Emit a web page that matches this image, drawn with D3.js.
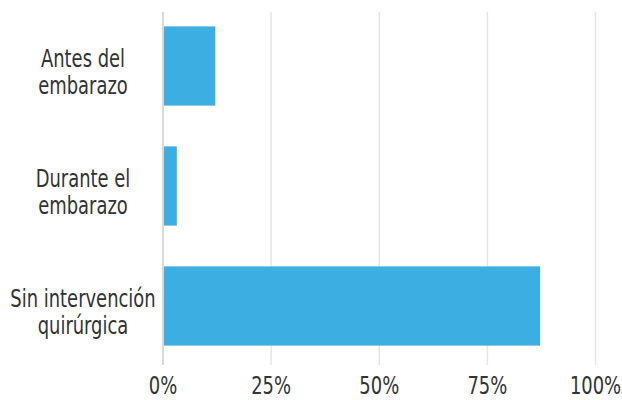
<!DOCTYPE html>
<html>
<head>
<meta charset="utf-8">
<script src="https://cdn.jsdelivr.net/npm/d3@7"></script>
<style>
  html, body { margin: 0; padding: 0; background: #fff; }
  svg text { font-family: "Liberation Sans Narrow", "DejaVu Sans Condensed", "Roboto", sans-serif; fill: #333; }
</style>
</head>
<body>
<svg id="chart"></svg>
<script>
// categories (each split into its display lines) and share of cases
const categories = ['Antes del embarazo', 'Durante el embarazo', 'Sin intervención quirúrgica'];
const categoryLines = [['Antes del', 'embarazo'], ['Durante el', 'embarazo'], ['Sin intervención', 'quirúrgica']];
const shares = [0.121, 0.032, 0.872];
const tickValues = [0, 0.25, 0.5, 0.75, 1];
const tickLabels = ['0%', '25%', '50%', '75%', '100%'];

const width = 622, height = 400;
const svg = d3.select('#chart').attr('width', width).attr('height', height);

const x = d3.scaleLinear().domain([0, 1]).range([163, 595.5]);
const y = d3.scaleBand().domain(categories).range([6, 366]).paddingInner(0.34).paddingOuter(0.17);

const gridTop = 12, gridBottom = 365;
const squeeze = 0.83; // the reference face is a narrow one; emulate it

// gridlines
svg.append('g').selectAll('line')
  .data(tickValues)
  .enter().append('line')
  .attr('x1', d => x(d)).attr('x2', d => x(d))
  .attr('y1', gridTop).attr('y2', gridBottom)
  .attr('stroke', d => d === 0 ? '#d9d9d9' : '#e6e6e6')
  .attr('stroke-width', d => d === 0 ? 2 : 1.5);

// bars
svg.append('g').selectAll('rect')
  .data(shares)
  .enter().append('rect')
  .attr('x', x(0) + 1)
  .attr('y', (d, i) => y(categories[i]))
  .attr('width', d => x(d) - x(0) - 1)
  .attr('height', y.bandwidth())
  .attr('fill', '#3daee2');

// category labels, centred in the left margin
const labels = svg.append('g').selectAll('text')
  .data(categories)
  .enter().append('text')
  .attr('text-anchor', 'middle')
  .attr('font-size', 24)
  .attr('transform', d => `translate(83,${y(d) + y.bandwidth() / 2}) scale(${squeeze},1)`);

labels.each(function (d, i) {
  d3.select(this).selectAll('tspan')
    .data(categoryLines[i])
    .enter().append('tspan')
    .attr('x', 0)
    .attr('y', (t, j) => 1 + j * 27)
    .text(t => t);
});

// x tick labels
svg.append('g').selectAll('text')
  .data(tickValues)
  .enter().append('text')
  .attr('transform', d => `translate(${x(d)},394) scale(${squeeze},1)`)
  .attr('text-anchor', 'middle')
  .attr('font-size', 24)
  .text((d, i) => tickLabels[i]);
</script>
</body>
</html>
